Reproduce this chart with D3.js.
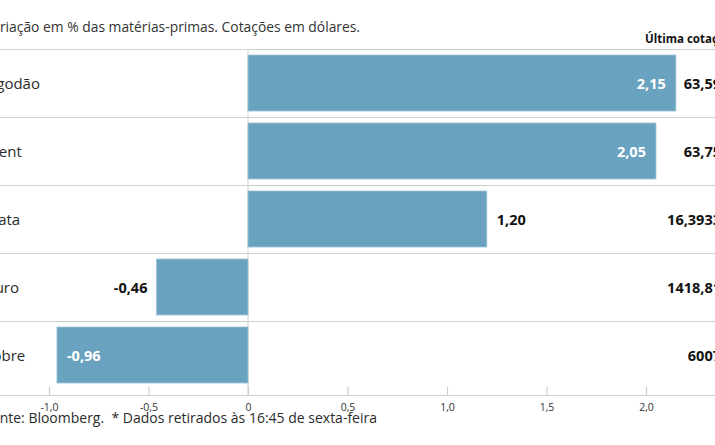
<!DOCTYPE html>
<html>
<head>
<meta charset="utf-8">
<script src="https://cdn.jsdelivr.net/npm/d3@7"></script>
<style>
  html, body { margin: 0; padding: 0; background: #fff; overflow: hidden; }
  svg { display: block; font-family: "Open Sans", "Noto Sans", sans-serif; }
</style>
</head>
<body>
<svg id="chart" width="715" height="445"></svg>
<script>
const categories = ["Algodão", "Brent", "Prata", "Ouro", "Cobre"];
const changes = [2.15, 2.05, 1.20, -0.46, -0.96];
const lastQuotes = ["63,59", "63,75", "16,3933", "1418,81", "6007"];
const tickValues = [-1.0, -0.5, 0, 0.5, 1.0, 1.5, 2.0];
const tickLabels = ["-1,0", "-0,5", "0", "0,5", "1,0", "1,5", "2,0"];
const titleText = "Variação em % das matérias-primas. Cotações em dólares.";
const headerText = "Última cotação*";
const footerText = "Fonte: Bloomberg.  * Dados retirados às 16:45 de sexta-feira";

const W = 715, H = 445;
const svg = d3.select("#chart");
svg.append("rect").attr("width", W).attr("height", H).attr("fill", "#fff");

const x = d3.scaleLinear().domain([-1, 2]).range([49, 646]);
const y = d3.scaleBand().domain(categories).range([49, 389])
  .paddingInner(12 / 68).paddingOuter(6 / 68);
const gap = y.step() - y.bandwidth();

const grid = "#cfcfcf";
const textCol = "#2b2b2b";
const barCol = "#6aa3bf";

// title
svg.append("text").attr("x", -16).attr("y", 32)
  .attr("font-size", 15).attr("fill", "#333")
  .attr("textLength", 376).attr("lengthAdjust", "spacingAndGlyphs")
  .text(titleText);

// header
svg.append("text").attr("x", 645).attr("y", 43)
  .attr("font-size", 11.5).attr("font-weight", 700).attr("fill", "#111")
  .text(headerText);

// top rule
svg.append("line").attr("x1", 0).attr("x2", W).attr("y1", 49.5).attr("y2", 49.5)
  .attr("stroke", grid).attr("stroke-width", 1);

// row separators
const rows = categories.map((c, i) => ({ c, v: changes[i], q: lastQuotes[i], i }));
svg.selectAll("line.sep").data(rows.slice(1)).join("line").attr("class", "sep")
  .attr("x1", 0).attr("x2", W)
  .attr("y1", d => Math.round(y(d.c) - gap / 2) + 0.5)
  .attr("y2", d => Math.round(y(d.c) - gap / 2) + 0.5)
  .attr("stroke", grid).attr("stroke-width", 1);

// zero line
svg.append("line").attr("x1", x(0)).attr("x2", x(0)).attr("y1", 49).attr("y2", 395)
  .attr("stroke", grid).attr("stroke-width", 1);

// bars
svg.selectAll("rect.bar").data(rows).join("rect").attr("class", "bar")
  .attr("x", d => Math.min(x(0), x(d.v)))
  .attr("width", d => Math.abs(x(d.v) - x(0)))
  .attr("y", d => y(d.c))
  .attr("height", y.bandwidth())
  .attr("fill", barCol)
  .attr("stroke", "#9cc3d6").attr("stroke-width", 0.8);

// category labels
svg.selectAll("text.cat").data(rows).join("text").attr("class", "cat")
  .attr("x", -17)
  .attr("y", d => y(d.c) + y.bandwidth() / 2 + 5.5)
  .attr("font-size", 15).attr("fill", textCol)
  .text(d => d.c);

// value labels
const inside = new Set(["Algodão", "Brent", "Cobre"]);
const fmt = v => d3.format(".2f")(v).replace("−", "-").replace(".", ",");
svg.selectAll("text.val").data(rows).join("text").attr("class", "val")
  .attr("y", d => y(d.c) + y.bandwidth() / 2 + 5.5)
  .attr("font-size", 14.5).attr("font-weight", 700)
  .attr("fill", d => inside.has(d.c) ? "#fff" : "#111")
  .attr("x", d => {
    const end = x(d.v);
    if (d.v >= 0) return inside.has(d.c) ? end - 10 : end + 10;
    return inside.has(d.c) ? end + 10 : end - 9;
  })
  .attr("text-anchor", d => (d.v >= 0) === inside.has(d.c) ? "end" : "start")
  .text(d => fmt(d.v));

// last quotes
svg.selectAll("text.quote").data(rows).join("text").attr("class", "quote")
  .attr("x", 721)
  .attr("y", d => y(d.c) + y.bandwidth() / 2 + 5.5)
  .attr("text-anchor", "end")
  .attr("font-size", 14.5).attr("font-weight", 700).attr("fill", "#111")
  .text(d => d.q);

// axis
svg.append("line").attr("x1", 0).attr("x2", W).attr("y1", 395.5).attr("y2", 395.5)
  .attr("stroke", grid).attr("stroke-width", 1.2);
const axis = d3.axisBottom(x).tickValues(tickValues)
  .tickSize(-9).tickPadding(8)
  .tickFormat((d, i) => tickLabels[i]);
const gAxis = svg.append("g").attr("transform", "translate(0,395.5)").call(axis);
gAxis.select(".domain").remove();
gAxis.selectAll(".tick line").attr("stroke", grid).attr("stroke-width", 1.2);
gAxis.selectAll(".tick text").attr("font-size", 10.5).attr("fill", "#333")
  .attr("font-family", "'Open Sans', sans-serif");

// footer
svg.append("text").attr("x", -16).attr("y", 423)
  .attr("font-size", 14).attr("fill", textCol)
  .style("white-space", "pre")
  .attr("textLength", 393).attr("lengthAdjust", "spacingAndGlyphs")
  .text(footerText);
</script>
</body>
</html>
